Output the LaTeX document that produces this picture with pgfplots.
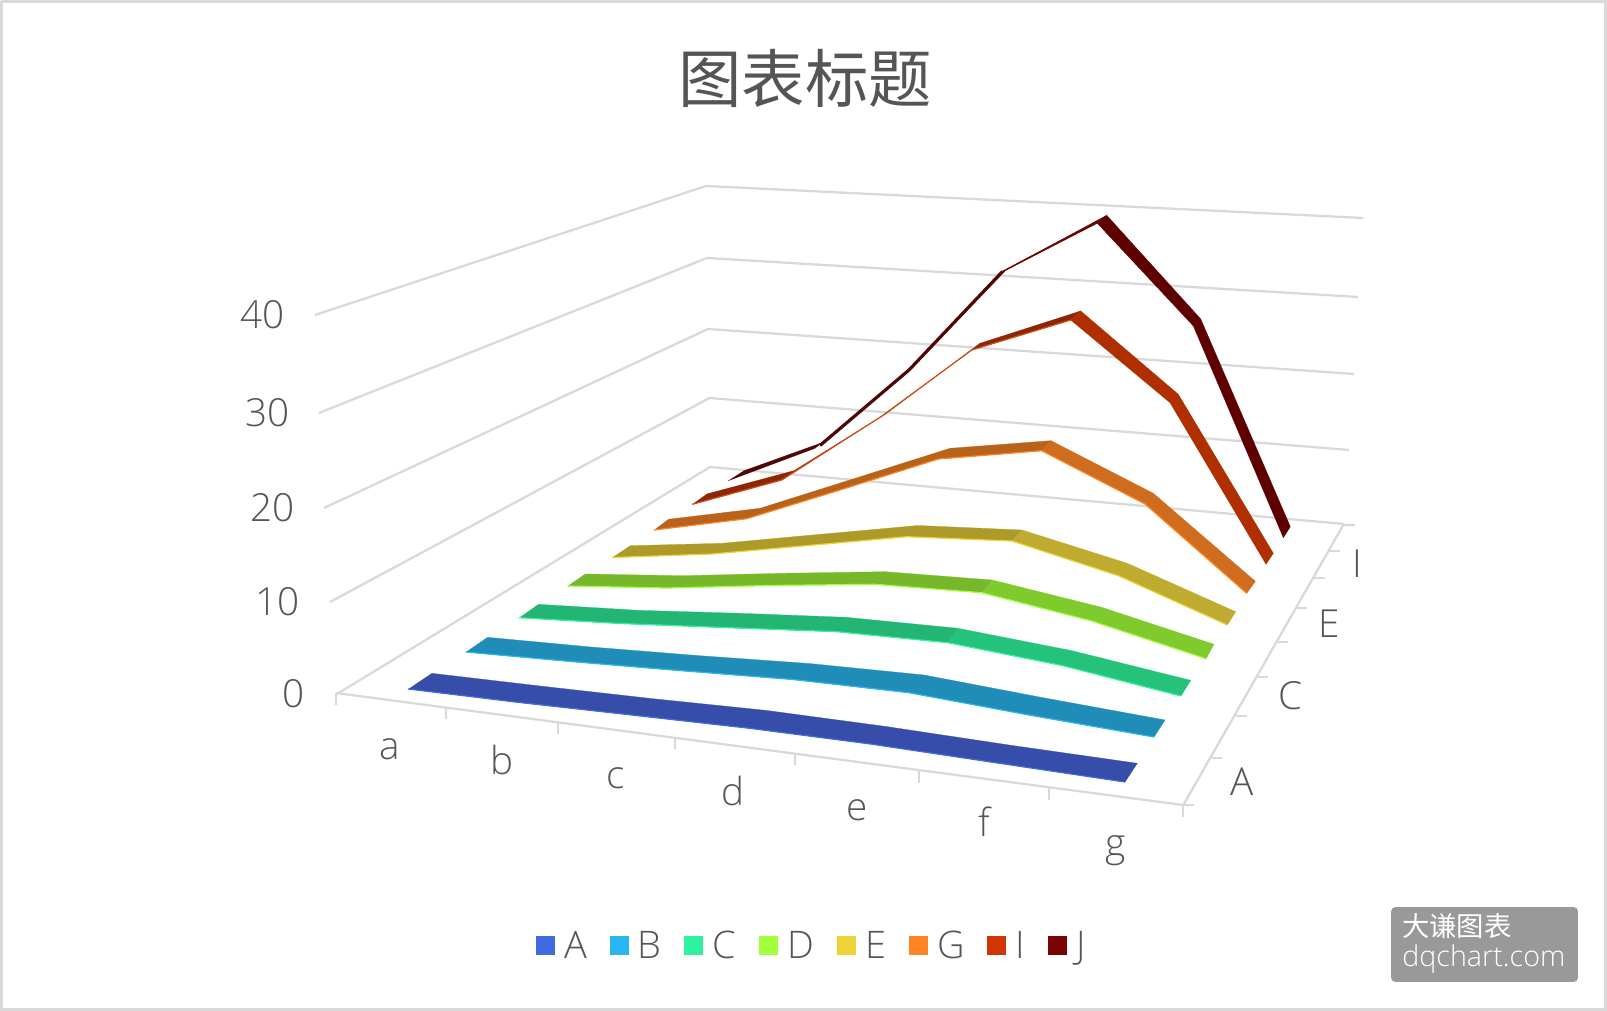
\documentclass[border=0pt]{standalone}
\usepackage{fontspec}
\usepackage{pgfplots}
\pgfplotsset{compat=1.18}
\setmainfont{Open Sans Light}
\newfontfamily\cjk{Noto Sans CJK SC}
\definecolor{grid}{HTML}{D9D9D9}
\definecolor{txt}{HTML}{555555}
\definecolor{LA}{HTML}{4169E1}\definecolor{LB}{HTML}{29B6F1}\definecolor{LC}{HTML}{2FF1A0}\definecolor{LD}{HTML}{A2FF3B}
\definecolor{LE}{HTML}{EDD337}\definecolor{LG}{HTML}{FF8423}\definecolor{LI}{HTML}{D03505}\definecolor{LJ}{HTML}{7A0403}
\definecolor{A1}{HTML}{364EAA}\definecolor{B1}{HTML}{1F8DB7}
\definecolor{C1}{HTML}{23B573}\definecolor{C2}{HTML}{25C27A}
\definecolor{D1}{HTML}{76B82A}\definecolor{D2}{HTML}{7FCB2E}
\definecolor{E1}{HTML}{AE9A29}\definecolor{E2}{HTML}{BFAB30}
\definecolor{G1}{HTML}{B8621A}\definecolor{G2}{HTML}{CF6C1E}
\definecolor{I1}{HTML}{8E2505}\definecolor{I2}{HTML}{B02F00}\definecolor{Ie}{HTML}{D24A14}
\definecolor{J1}{HTML}{4E0606}\definecolor{J2}{HTML}{5E0000}
\newcommand\rib[2]{\addplot[fill=#1,draw=#1,line width=0.2pt,forget plot] coordinates {#2};}
\newcommand\edge[2]{\addplot[draw=#1,line width=0.9pt,forget plot] coordinates {#2};}
\newcommand\gl[1]{\addplot[draw=grid,line width=1.7pt,forget plot] coordinates {#1};}
\newcommand\lab[3]{\node[font=\fontsize{29}{30}\selectfont,text=txt,anchor=base] at (axis cs:#1,#2) {#3};}
\newcommand\labr[3]{\node[font=\fontsize{29}{30}\selectfont,text=txt,anchor=base east] at (axis cs:#1,#2) {#3};}
\begin{document}
\begin{tikzpicture}
\begin{axis}[
  scale only axis,width=1205.25pt,height=758.25pt,
  xmin=0,xmax=1607,ymin=0,ymax=1011,y dir=reverse,
  axis lines=none,clip=false,
  legend columns=-1,
  legend style={draw=none,fill=none,at={(axis cs:812,945.5)},anchor=center,
    font=\fontsize{28.5}{30}\selectfont\color{txt},inner sep=0pt,
    /tikz/every even column/.style={column sep=15pt},
    /tikz/every odd column/.style={column sep=5pt}},
  legend image code/.code={\fill[#1,draw=none] (0pt,-7.1pt) rectangle (14.25pt,7.1pt);},
]
% frame
\addplot[draw=grid,line width=2.2pt,forget plot] coordinates {(1.5,1.5) (1605.5,1.5) (1605.5,1009.5) (1.5,1009.5) (1.5,1.5)};
% walls
\gl{(315,315) (706,186) (1363,218)}
\gl{(319,413) (707,258) (1358,297)}
\gl{(324,508) (708,329) (1354,374)}
\gl{(330,602) (709.4,398) (1349,450)}
\gl{(337,694) (710,467) (1344,524)}
% floor
\gl{(336,693) (1183.3,805) (1343.3,525) (1355,525)}
% category ticks
\gl{(336,693) (336,705)}\gl{(446,708) (446,719)}\gl{(558,723) (558,734)}\gl{(675,738) (675,749)}
\gl{(795,754) (795,765)}\gl{(919,771) (919,783)}\gl{(1049,788) (1049,800)}\gl{(1183.3,805) (1183.3,817)}
% series ticks
\gl{(1183.3,805) (1194,805)}\gl{(1211.7,758.3) (1221.7,758.3)}\gl{(1236,715.7) (1246.7,715.7)}\gl{(1257.3,677.3) (1268.3,677.3)}
\gl{(1277.3,641.7) (1288.3,641.7)}\gl{(1296.7,608.3) (1307.3,608.3)}\gl{(1314,578.3) (1325,578.3)}\gl{(1329.3,550.7) (1340,550.7)}
% J
\rib{J1}{(743.3,471) (824,442) (911,368.3) (1006.7,269.3) (1106.7,215.3) (1097.3,223.3) (1000,273.3) (906.7,371.7) (815,448.3) (728.3,480.7)}
\rib{J2}{(1106.7,215.3) (1200.7,319) (1290.3,526.7) (1283.3,537.7) (1193.3,326) (1097.3,223.3)}
\addplot[draw=J1,line width=2.4pt,forget plot] coordinates {(820,445.5) (909,370) (1002.5,271.5)};
\addplot[draw=LJ,line width=1pt,forget plot] coordinates {(1002.5,271.5) (1102,219)};
% I
\rib{I1}{(706.7,494) (794,470.7) (886.7,413.3) (980,343.3) (1080.7,311) (1070.7,320) (971.7,350) (882,416) (781.7,480) (692.3,504.3)}
\rib{I2}{(1080.7,311) (1178.3,394.3) (1273.3,553.3) (1266,564.3) (1170,402.7) (1070.7,320)}
\edge{Ie}{(692.3,504.3) (781.7,480) (882,416) (971.7,350) (1070.7,320)}
% G
\rib{G1}{(668.3,519.3) (760,508.3) (853,479) (950,448.3) (1051,440.7) (1041.7,450.7) (938.3,459) (840,490) (746.7,518.7) (654,530)}
\rib{G2}{(1051,440.7) (1153.3,493.3) (1255.3,581.3) (1246.7,593.3) (1145,504) (1041.7,450.7)}
\edge{LG}{(654,530) (746.7,518.7) (840,490) (938.3,459) (1041.7,450.7) (1145,504) (1246.7,593.3)}
% E
\rib{E1}{(630,545.7) (722,543.3) (818,534.5) (918,525.5) (1022,530) (1012,541) (907,536.7) (808,545.5) (712,554) (612.3,557.5)}
\rib{E2}{(1022,530) (1127.3,563.3) (1235.7,611.7) (1227.3,625) (1118.3,575.7) (1012,541)}
\edge{LE}{(612.3,557.5) (712,554) (808,545.5) (907,536.7) (1012,541) (1118.3,575.7) (1227.3,625)}
% D
\rib{D1}{(585,574) (683,575.7) (783,573.3) (885,571.7) (992.3,580) (981.7,592.7) (875,584.3) (770,585.5) (667,588) (567.7,586)}
\rib{D2}{(992.3,580) (1101.7,607.3) (1214,644.3) (1206,658.7) (1091.7,621) (981.7,592.7)}
\edge{LD}{(567.7,586) (667,588) (770,585.5) (875,584.3) (981.7,592.7) (1091.7,621) (1206,658.7)}
% C
\rib{C1}{(538.3,604.3) (638,610.3) (740,613.3) (846,617.3) (958,628.3) (948,642.7) (837,631.7) (724,627.5) (620,623.5) (519.3,617.7)}
\rib{C2}{(958,628.3) (1072,650.7) (1190.7,680.3) (1181,696) (1063,665.7) (948,642.7)}
\edge{LC}{(519.3,617.7) (620,623.5) (724,627.5) (837,631.7) (948,642.7) (1063,665.7) (1181,696)}
% B
\rib{B1}{(487.3,637.3) (591,647) (697,655.5) (809,663.5) (924,675) (1042,697.5) (1165,720) (1154,737) (1029,715) (909,692.7) (793,679.5) (679,670.5) (571,661.5) (466,652)}
\edge{LB}{(466,652) (571,661.5) (679,670.5) (793,679.5) (909,692.7) (1029,715) (1154,737)}
% A
\rib{A1}{(431.7,673.3) (540,686) (651,698.5) (767,710.5) (886,726.5) (1009,745) (1137.3,763.3) (1125,782) (995,762.6) (870,743.9) (749,728.2) (630,714.8) (518,702.3) (408.3,689)}
\edge{LA}{(408.3,689) (518,702.3) (630,714.8) (749,728.2) (870,743.9) (995,762.6) (1125,782)}
% legend keys
\addlegendimage{fill=LA}\addlegendimage{fill=LB}\addlegendimage{fill=LC}\addlegendimage{fill=LD}
\addlegendimage{fill=LE}\addlegendimage{fill=LG}\addlegendimage{fill=LI}\addlegendimage{fill=LJ}
\legend{A,B,C,D,E,G,I,J}
% text
\node[font=\cjk\fontsize{47.5}{50}\selectfont,text=txt,anchor=center] at (axis cs:805,78) {图表标题};
\lab{390}{759}{a}\lab{501.7}{774}{b}\lab{616}{788}{c}\lab{733}{805}{d}\lab{856.7}{820.7}{e}\lab{984}{836.7}{f}\lab{1116}{856}{g}
\labr{289}{329}{40}\labr{294}{427}{30}\labr{299}{522}{20}\labr{304}{615}{10}\labr{309}{707}{0}
\lab{1241.7}{795}{A}\lab{1290}{709}{C}\lab{1329}{637.7}{E}\lab{1357.3}{577.7}{I}
\node[fill=black!40,rounded corners=3pt,minimum width=140pt,minimum height=56pt,anchor=center,inner sep=0pt] at (axis cs:1484.5,944.5) {};
\node[font=\cjk\fontsize{20.5}{22}\selectfont,text=white,anchor=west,inner sep=0pt] at (axis cs:1402,926) {大谦图表};
\node[font=\fontsize{21.5}{24}\selectfont,text=white,anchor=west,inner sep=0pt] at (axis cs:1402,959.5) {dqchart.com};
\end{axis}
\end{tikzpicture}
\end{document}
